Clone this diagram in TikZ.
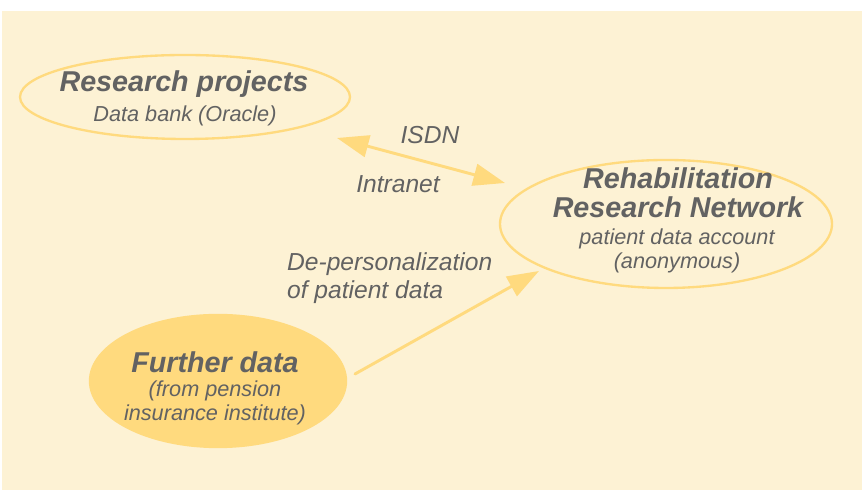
\documentclass[tikz,border=0pt]{standalone}
\usepackage{fontspec}
\setmainfont{Liberation Sans}
\usetikzlibrary{shapes.geometric,arrows.meta}

\definecolor{cream}{HTML}{FDF2D4}
\definecolor{sun}{HTML}{FFDA7E}
\definecolor{ink}{HTML}{626262}

\tikzset{
  bubble/.style={ellipse, draw=sun, line width=2pt, inner sep=0pt},
  headline/.style={text=ink, align=center, font=\fontsize{24.5}{25}\selectfont\bfseries\itshape},
  subline/.style={text=ink, align=center, font=\fontsize{18.5}{20.5}\selectfont\itshape},
  linklabel/.style={text=ink, font=\fontsize{21}{24}\selectfont\itshape},
  link/.style={draw=sun, line width=2.5pt, arrows={-Triangle[length=0.95cm,width=0.66cm]}},
  twolink/.style={link, arrows={Triangle[length=0.95cm,width=0.66cm]-Triangle[length=0.95cm,width=0.66cm]}},
}

\begin{document}
\begin{tikzpicture}[x=1cm,y=1cm,line cap=round,line join=round]
    \useasboundingbox (0,0) rectangle (25.86,14.79);
    \fill[cream] (0.06,0.09) rectangle (25.86,14.46);

    % the three places where data lives
    \node[bubble, minimum width=9.9cm, minimum height=2.52cm] (projects) at (5.55,11.88) {};
    \node[bubble, minimum width=9.96cm, minimum height=3.84cm] (network) at (19.98,8.07) {};
    \node[bubble, fill=sun, minimum width=7.68cm, minimum height=3.96cm] (further) at (6.54,3.36) {};

    \node[headline] (projects title) at (5.52,12.28) {Research projects};
    \node[subline] (projects sub) at (5.55,11.31) {Data bank (Oracle)};
    \node[headline] (network title) at (20.34,9.00) {Rehabilitation\\Research Network};
    \node[subline] (network sub) at (20.31,7.26) {patient data account\\(anonymous)};
    \node[headline] (further title) at (6.45,3.93) {Further data};
    \node[subline] (further sub) at (6.45,2.71) {(from pension\\insurance institute)};

    % arrow ends sit just off the ellipses
    \coordinate (isdn west) at (10.11,10.65);
    \coordinate (isdn east) at (15.15,9.30);
    \coordinate (anon start) at (10.65,3.57);
    \coordinate (anon end) at (16.17,6.66);

    \draw[twolink] (isdn west) -- (isdn east);
    \draw[link] (anon start) -- (anon end);

    \node[linklabel] (isdn) at (12.9,10.74) {ISDN};
    \node[linklabel] (intranet) at (11.94,9.27) {Intranet};
    \node[linklabel, anchor=west, align=left] (depers) at (8.49,6.45) {De-personalization\\of patient data};
  \end{tikzpicture}
\end{document}
